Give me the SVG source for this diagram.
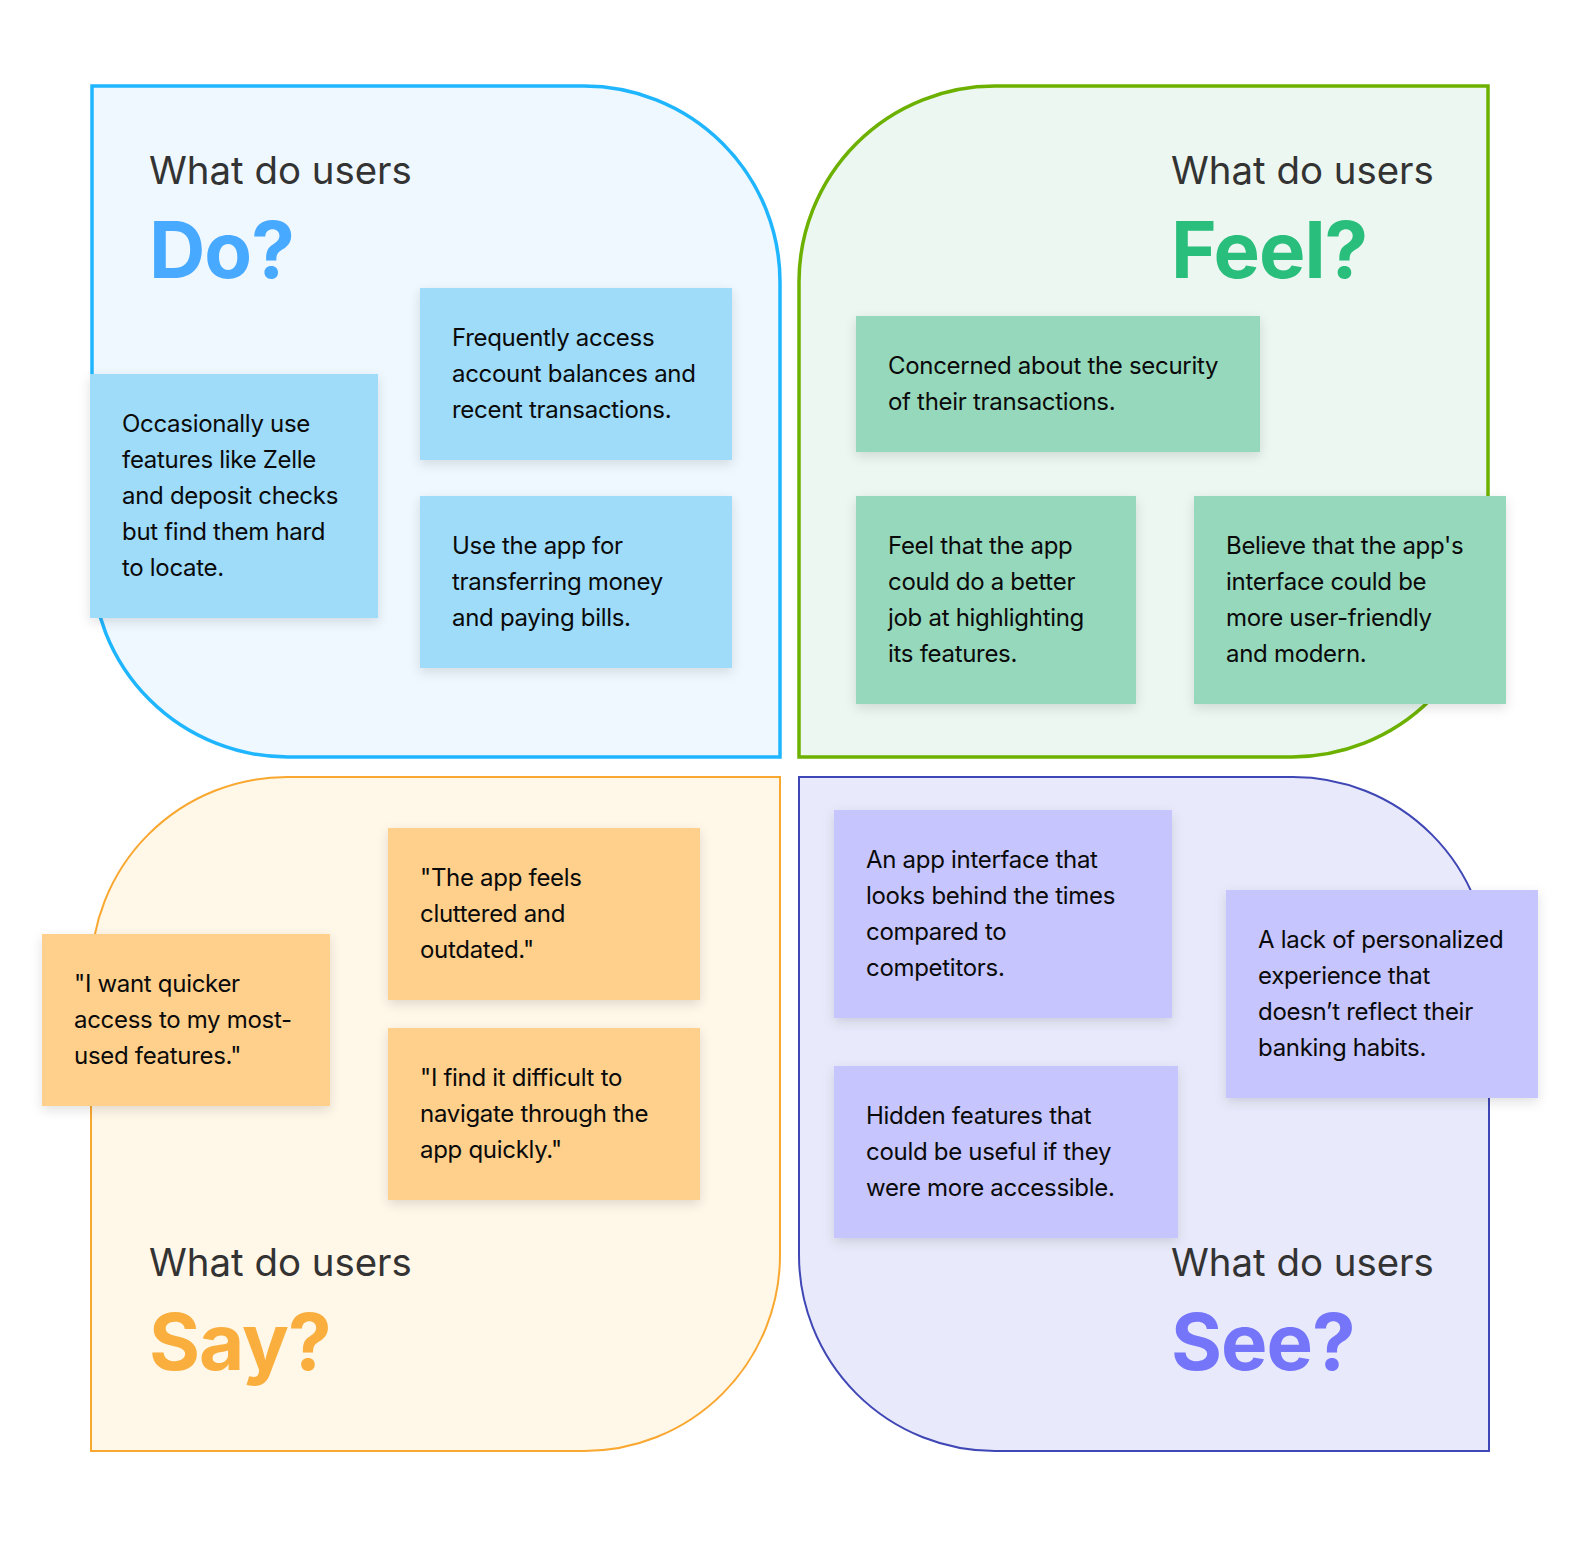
<svg xmlns="http://www.w3.org/2000/svg" width="1580" height="1556" viewBox="0 0 1580 1556">
  <style>
    .q-do { fill: #EFF8FF; stroke: #1FB6FF; stroke-width: 3.5; }
    .q-feel { fill: #ECF7F1; stroke: #6DB100; stroke-width: 3.5; }
    .q-say { fill: #FFF7E8; stroke: #F9A72F; stroke-width: 2; }
    .q-see { fill: #E8E9FA; stroke: #3F46B5; stroke-width: 2; }
    .ask { font-family: Inter, "Liberation Sans", sans-serif; font-size: 38.4px; font-weight: 400; fill: #333333; }
    .big { font-family: Inter, "Liberation Sans", sans-serif; font-size: 78px; font-weight: 700; letter-spacing: -1px; }
    .note text { font-family: Inter, "Liberation Sans", sans-serif; font-size: 24px; font-weight: 400; fill: #0A0A0A; letter-spacing: -0.3px; }
    .n-blue { fill: #9EDCFA; }
    .n-green { fill: #96D8BC; }
    .n-orange { fill: #FED08C; }
    .n-purple { fill: #C6C5FD; }
  </style>
  <defs>
    <filter id="shadow" x="-10%" y="-10%" width="120%" height="130%">
      <feDropShadow dx="0" dy="4" stdDeviation="6" flood-color="#000000" flood-opacity="0.12"/>
    </filter>
  </defs>
  <rect width="1580" height="1556" fill="#FFFFFF"/>

  <g id="quadrant-do">
    <path class="q-do" d="M92,86 H584 A196,196 0 0 1 780,282 V757 H288 A196,196 0 0 1 92,561 Z"/>
    <text class="ask" x="149" y="184">What do users</text>
    <text class="big" x="149" y="278" fill="#47A9FF">Do?</text>
  </g>
  <g id="quadrant-feel">
    <path class="q-feel" d="M995,86 H1488 V561 A196,196 0 0 1 1292,757 H799 V282 A196,196 0 0 1 995,86 Z"/>
    <text class="ask" x="1171" y="184">What do users</text>
    <text class="big" x="1171" y="278" fill="#2ABE7C">Feel?</text>
  </g>
  <g id="quadrant-say">
    <path class="q-say" d="M287,777 H780 V1255 A196,196 0 0 1 584,1451 H91 V973 A196,196 0 0 1 287,777 Z"/>
    <text class="ask" x="149" y="1276">What do users</text>
    <text class="big" x="149" y="1370" fill="#F9AE3D">Say?</text>
  </g>
  <g id="quadrant-see">
    <path class="q-see" d="M799,777 H1293 A196,196 0 0 1 1489,973 V1451 H995 A196,196 0 0 1 799,1255 Z"/>
    <text class="ask" x="1171" y="1276">What do users</text>
    <text class="big" x="1171" y="1370" fill="#7575FA">See?</text>
  </g>

  <g id="connectors"></g>

  <g id="do-occasionally" class="note">
    <rect class="n-blue" x="90" y="374" width="288" height="244" filter="url(#shadow)"/>
    <text x="122" y="432">Occasionally use</text>
    <text x="122" y="468">features like Zelle</text>
    <text x="122" y="504">and deposit checks</text>
    <text x="122" y="540">but find them hard</text>
    <text x="122" y="576">to locate.</text>
  </g>
  <g id="do-frequently" class="note">
    <rect class="n-blue" x="420" y="288" width="312" height="172" filter="url(#shadow)"/>
    <text x="452" y="346">Frequently access</text>
    <text x="452" y="382">account balances and</text>
    <text x="452" y="418">recent transactions.</text>
  </g>
  <g id="do-transfer" class="note">
    <rect class="n-blue" x="420" y="496" width="312" height="172" filter="url(#shadow)"/>
    <text x="452" y="554">Use the app for</text>
    <text x="452" y="590">transferring money</text>
    <text x="452" y="626">and paying bills.</text>
  </g>

  <g id="feel-security" class="note">
    <rect class="n-green" x="856" y="316" width="404" height="136" filter="url(#shadow)"/>
    <text x="888" y="374">Concerned about the security</text>
    <text x="888" y="410">of their transactions.</text>
  </g>
  <g id="feel-highlight" class="note">
    <rect class="n-green" x="856" y="496" width="280" height="208" filter="url(#shadow)"/>
    <text x="888" y="554">Feel that the app</text>
    <text x="888" y="590">could do a better</text>
    <text x="888" y="626">job at highlighting</text>
    <text x="888" y="662">its features.</text>
  </g>
  <g id="feel-interface" class="note">
    <rect class="n-green" x="1194" y="496" width="312" height="208" filter="url(#shadow)"/>
    <text x="1226" y="554">Believe that the app's</text>
    <text x="1226" y="590">interface could be</text>
    <text x="1226" y="626">more user-friendly</text>
    <text x="1226" y="662">and modern.</text>
  </g>

  <g id="say-quicker" class="note">
    <rect class="n-orange" x="42" y="934" width="288" height="172" filter="url(#shadow)"/>
    <text x="74" y="992">"I want quicker</text>
    <text x="74" y="1028">access to my most-</text>
    <text x="74" y="1064">used features."</text>
  </g>
  <g id="say-cluttered" class="note">
    <rect class="n-orange" x="388" y="828" width="312" height="172" filter="url(#shadow)"/>
    <text x="420" y="886">"The app feels</text>
    <text x="420" y="922">cluttered and</text>
    <text x="420" y="958">outdated."</text>
  </g>
  <g id="say-navigate" class="note">
    <rect class="n-orange" x="388" y="1028" width="312" height="172" filter="url(#shadow)"/>
    <text x="420" y="1086">"I find it difficult to</text>
    <text x="420" y="1122">navigate through the</text>
    <text x="420" y="1158">app quickly."</text>
  </g>

  <g id="see-interface" class="note">
    <rect class="n-purple" x="834" y="810" width="338" height="208" filter="url(#shadow)"/>
    <text x="866" y="868">An app interface that</text>
    <text x="866" y="904">looks behind the times</text>
    <text x="866" y="940">compared to</text>
    <text x="866" y="976">competitors.</text>
  </g>
  <g id="see-hidden" class="note">
    <rect class="n-purple" x="834" y="1066" width="344" height="172" filter="url(#shadow)"/>
    <text x="866" y="1124">Hidden features that</text>
    <text x="866" y="1160">could be useful if they</text>
    <text x="866" y="1196">were more accessible.</text>
  </g>
  <g id="see-personalized" class="note">
    <rect class="n-purple" x="1226" y="890" width="312" height="208" filter="url(#shadow)"/>
    <text x="1258" y="948">A lack of personalized</text>
    <text x="1258" y="984">experience that</text>
    <text x="1258" y="1020">doesn’t reflect their</text>
    <text x="1258" y="1056">banking habits.</text>
  </g>
</svg>
